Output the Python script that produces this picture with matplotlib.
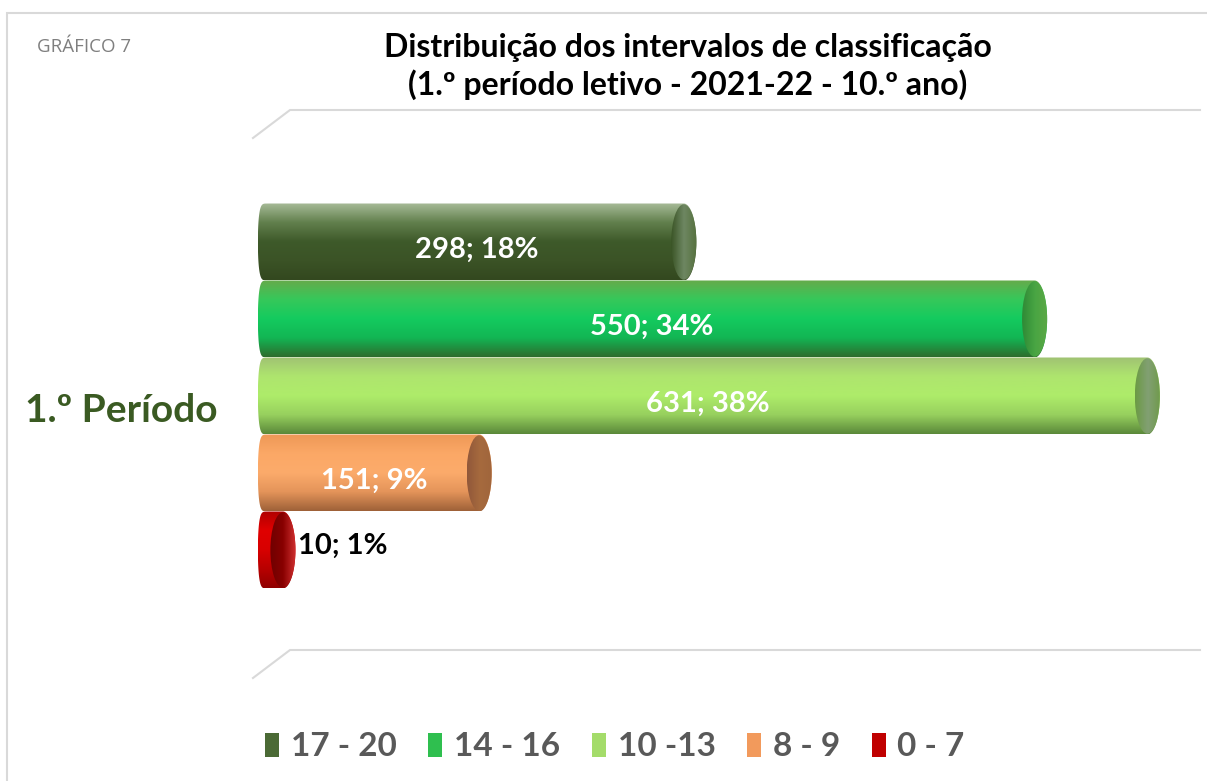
import numpy as np
import matplotlib
matplotlib.use('Agg')
import matplotlib.pyplot as plt
from matplotlib.colors import LinearSegmentedColormap
from matplotlib.patches import Ellipse, PathPatch, Patch, Rectangle
from matplotlib.path import Path
from matplotlib.lines import Line2D

plt.rcParams['font.family'] = ['Lato', 'DejaVu Sans']

# data
categories = ['17 - 20', '14 - 16', '10 -13', '8 - 9', '0 - 7']
counts = [298, 550, 631, 151, 10]
percents = [18, 34, 38, 9, 1]
period = '1.º Período'

body_colors = [
    ['#a7bb98', '#62804d', '#3e5a2a', '#3b5326', '#33481f'],
    ['#66aa4b', '#36c85a', '#14cb5f', '#12b654', '#2e6c2d'],
    ['#a0c273', '#aee56e', '#aeec6a', '#97d05e', '#5a883a'],
    ['#ee9857', '#fba866', '#fcab6b', '#e4945a', '#9e6138'],
    ['#b00000', '#e00000', '#d80000', '#b80000', '#900000'],
]
cap_colors = [
    ['#3a5426', '#6e8762', '#56713f'],
    ['#2f8a36', '#49a543', '#5ba845'],
    ['#6b9a44', '#82a073', '#6f9a4a'],
    ['#91583a', '#a66a3e', '#a0653c'],
    ['#700000', '#880000', '#d03030'],
]
legend_colors = ['#4b6a35', '#2fbf4f', '#a4dc6a', '#f29a5c', '#c00000']

W, H = 1207, 781
fig = plt.figure(figsize=(W / 100, H / 100), dpi=100)

def fx(px):
    return px / W

def fy(py):
    return 1 - py / H

# frame and perspective gridlines
fig.patches.append(Rectangle((fx(7), fy(790)), fx(1220), fy(13) - fy(790),
                             transform=fig.transFigure, fill=False,
                             edgecolor='#d9d9d9', linewidth=1.5))
for yb, yf in [(110, 138), (650, 678)]:
    fig.lines.append(Line2D([fx(253), fx(290), fx(1200)], [fy(yf), fy(yb), fy(yb)],
                            transform=fig.transFigure, color='#d9d9d9', linewidth=1.5))

# axes: 1 data unit ~ 1.392 px along x; 1 unit = 77 px along y
x0_px = 269
scale = 1.392
xmin, xmax = -12, 650
ax = fig.add_axes([fx(x0_px + xmin * scale), fy(678), (xmax - xmin) * scale / W, (678 - 138) / H])
ax.set_xlim(xmin, xmax)
ax.set_ylim(2 - (678 - 396) / 77, 2 + (396 - 138) / 77)
ax.axis('off')

a = 9.0      # cap half-width (data units)
al = 8.0     # left end half-width
t = np.linspace(np.pi / 2, 3 * np.pi / 2, 60)
t2 = np.linspace(-np.pi / 2, np.pi / 2, 60)
grad_v = np.linspace(0, 1, 256).reshape(-1, 1)
grad_h = np.linspace(0, 1, 64).reshape(1, -1)

n = len(counts)
for i, (v, p) in enumerate(zip(counts, percents)):
    yc = n - 1 - i
    # body outline, flattened left end
    c = np.cos(t)
    xl = -al * np.abs(c) ** 0.35
    xs = np.concatenate([xl, v + a * np.cos(t2)])
    ys = np.concatenate([yc + 0.5 * np.sin(t), yc + 0.5 * np.sin(t2)])
    verts = np.column_stack([xs, ys])
    verts = np.vstack([verts, verts[:1]])
    patch = PathPatch(Path(verts, closed=True), facecolor='none', edgecolor='none')
    ax.add_patch(patch)
    cmap = LinearSegmentedColormap.from_list('b%d' % i, body_colors[i])
    im = ax.imshow(grad_v, cmap=cmap, aspect='auto', origin='upper',
                   extent=[-al, v + a, yc - 0.5, yc + 0.5], zorder=2)
    im.set_clip_path(patch)
    # end cap
    cap = Ellipse((v, yc), 2 * a, 0.98, facecolor='none', edgecolor='none')
    ax.add_patch(cap)
    ccmap = LinearSegmentedColormap.from_list('c%d' % i, cap_colors[i])
    im2 = ax.imshow(grad_h, cmap=ccmap, aspect='auto',
                    extent=[v - a, v + a, yc - 0.5, yc + 0.5], zorder=3)
    im2.set_clip_path(cap)

    label = '%d; %d%%' % (v, p)
    if v > 50:
        ax.text(v / 2, yc - 0.1, label, color='white', fontsize=21,
                fontweight='bold', ha='center', va='center', zorder=5)
    else:
        ax.text(v + a + 2, yc + 0.05, label, color='black', fontsize=21,
                fontweight='bold', ha='left', va='center', zorder=5)

# category label
fig.text(fx(25), fy(411), period, fontsize=28, fontweight='bold',
         color='#3a5a22', ha='left', va='center')

# titles
fig.text(fx(37), fy(47), 'GRÁFICO 7', fontsize=13.5, color='#7f7f7f',
         ha='left', va='center', family=['Open Sans', 'DejaVu Sans'])
fig.text(fx(688), fy(47), 'Distribuição dos intervalos de classificação',
         fontsize=23, fontweight='bold', color='black', ha='center', va='center')
fig.text(fx(688), fy(85), '(1.º período letivo - 2021-22 - 10.º ano)',
         fontsize=23, fontweight='bold', color='black', ha='center', va='center')

# legend
handles = [Patch(facecolor=c, edgecolor='none') for c in legend_colors]
leg = fig.legend(handles, categories, loc='center', bbox_to_anchor=(fx(615), fy(747)),
                 ncol=5, frameon=False, fontsize=24, handlelength=0.42,
                 handleheight=0.7, handletextpad=0.35, columnspacing=0.95)
for txt in leg.get_texts():
    txt.set_color('#595959')
    txt.set_fontweight('bold')

fig.savefig('out.png', dpi=100)
